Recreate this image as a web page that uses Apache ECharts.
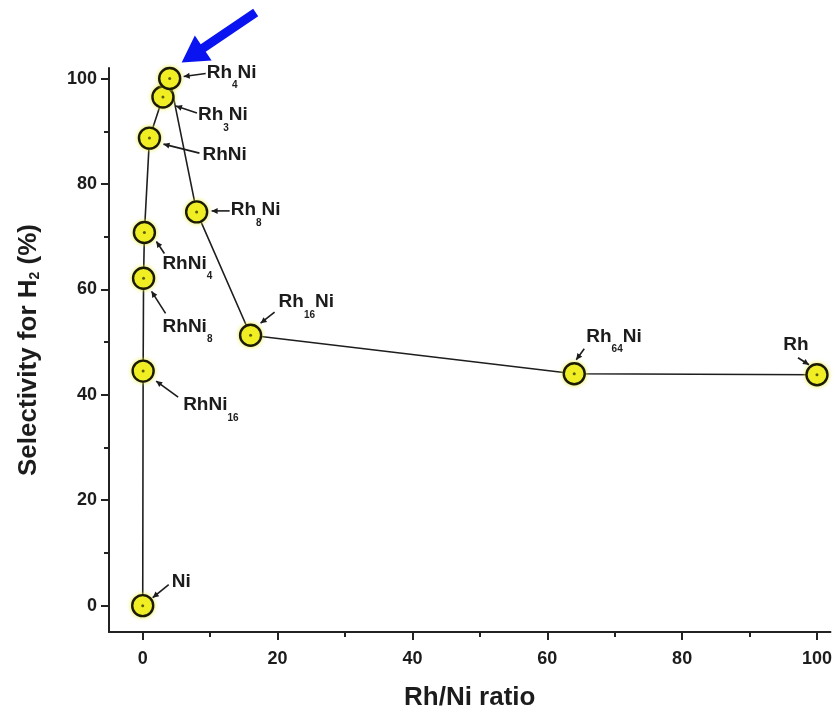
<!DOCTYPE html>
<html>
<head>
<meta charset="utf-8">
<script src="https://cdn.jsdelivr.net/npm/echarts@6/dist/echarts.min.js"></script>
<style>
html,body{margin:0;padding:0;background:#fff;}
#c{width:835px;height:724px;}
</style>
</head>
<body>
<div id="c"></div>
<script>
// ---- data ----
const ratioX = [0, 0.0625, 0.125, 0.25, 1, 3, 4, 8, 16, 64, 100];
const selectivityY = [0, 44.5, 62.1, 70.8, 88.7, 96.5, 100, 74.7, 51.3, 44.0, 43.8];
const pointLabels = ['Ni', 'RhNi{s|16}', 'RhNi{s|8}', 'RhNi{s|4}', 'RhNi', 'Rh{s|3}Ni', 'Rh{s|4}Ni', 'Rh{s|8}Ni', 'Rh{s|16}Ni', 'Rh{s|64}Ni', 'Rh'];
const xMajorTicks = [0, 20, 40, 60, 80, 100];
const xMinorTicks = [10, 30, 50, 70, 90];
const yMajorTicks = [0, 20, 40, 60, 80, 100];
const yMinorTicks = [10, 30, 50, 70, 90];

// ---- label layout (pixel offsets from each point: style only) ----
const labelLayout = [
  {t: [29, -24], align: 'left', a: [26, -21, 10, -8]},
  {t: [40, 34], align: 'left', a: [35, 26, 13, 10]},
  {t: [19, 48], align: 'left', a: [22, 35, 8, 13]},
  {t: [18, 31], align: 'left', a: [20, 21, 12, 9]},
  {t: [53, 17], align: 'left', a: [50, 15, 14, 6]},
  {t: [35, 18], align: 'left', a: [34, 16, 13, 9]},
  {t: [37, -6], align: 'left', a: [36, -5, 14, -2], blue: [12, -16, 86, -66]},
  {t: [34, -2], align: 'left', a: [33, -1, 15, -1]},
  {t: [28, -33], align: 'left', a: [24, -23, 10, -12]},
  {t: [12, -37], align: 'left', a: [10, -25, 2, -14]},
  {t: [-21, -30], align: 'center', a: [-19, -17, -8, -10]}
];

const pts = ratioX.map((x, i) => [x, selectivityY[i]]);
const FONT = '"Liberation Sans", Arial, Helvetica, sans-serif';
const TXT = '#1c1c1c';

function arrowHead(x1, y1, x2, y2, len, half) {
  const dx = x2 - x1, dy = y2 - y1;
  const d = Math.sqrt(dx * dx + dy * dy) || 1;
  const ux = dx / d, uy = dy / d;
  const bx = x2 - ux * len, by = y2 - uy * len;
  return [[x2, y2], [bx - uy * half, by + ux * half], [bx + uy * half, by - ux * half]];
}

function bigArrow(tx, ty, sx, sy) {
  const dx = tx - sx, dy = ty - sy;
  const d = Math.sqrt(dx * dx + dy * dy);
  const ux = dx / d, uy = dy / d;
  const px = -uy, py = ux;
  const headLen = 26, headHalf = 15, shaftHalf = 4.5;
  const bx = tx - ux * headLen, by = ty - uy * headLen;
  return [
    [sx + px * shaftHalf, sy + py * shaftHalf],
    [bx + px * shaftHalf, by + py * shaftHalf],
    [bx + px * headHalf, by + py * headHalf],
    [tx, ty],
    [bx - px * headHalf, by - py * headHalf],
    [bx - px * shaftHalf, by - py * shaftHalf],
    [sx - px * shaftHalf, sy - py * shaftHalf]
  ];
}

const chart = echarts.init(document.getElementById('c'), null, {renderer: 'canvas'});

const labelStyle = {color: TXT, fontFamily: FONT, fontWeight: 'bold', fontSize: 18};

chart.setOption({
  backgroundColor: '#ffffff',
  animation: false,
  grid: {left: 109, right: 4, top: 68, bottom: 92},
  xAxis: [
    {
      type: 'value', min: -5, max: 102, position: 'bottom',
      axisLine: {show: true, onZero: false, lineStyle: {color: '#222', width: 2}},
      splitLine: {show: false},
      name: 'Rh/Ni ratio', nameLocation: 'middle', nameGap: 53,
      nameTextStyle: {color: TXT, fontFamily: FONT, fontWeight: 'bold', fontSize: 26},
      axisTick: {show: true, inside: false, length: 8, lineStyle: {color: '#222', width: 2}, customValues: xMajorTicks},
      axisLabel: Object.assign({}, labelStyle, {margin: 18, customValues: xMajorTicks})
    },
    {
      type: 'value', min: -5, max: 102, position: 'bottom', gridIndex: 0,
      axisLine: {show: false, onZero: false}, splitLine: {show: false},
      axisLabel: {show: false},
      axisTick: {show: true, length: 5, lineStyle: {color: '#222', width: 2}, customValues: xMinorTicks}
    }
  ],
  yAxis: [
    {
      type: 'value', min: -5, max: 102, position: 'left',
      axisLine: {show: true, onZero: false, lineStyle: {color: '#222', width: 2}},
      splitLine: {show: false},
      name: 'Selectivity for H{s|2} (%)', nameLocation: 'middle', nameGap: 67, nameRotate: 90,
      nameTextStyle: {color: TXT, fontFamily: FONT, fontWeight: 'bold', fontSize: 26,
        rich: {s: {fontFamily: FONT, fontWeight: 'bold', fontSize: 14, color: TXT, verticalAlign: 'bottom', lineHeight: 15}}},
      axisTick: {show: true, inside: false, length: 8, lineStyle: {color: '#222', width: 2}, customValues: yMajorTicks},
      axisLabel: Object.assign({}, labelStyle, {margin: 12, customValues: yMajorTicks})
    },
    {
      type: 'value', min: -5, max: 102, position: 'left', gridIndex: 0,
      axisLine: {show: false, onZero: false}, splitLine: {show: false},
      axisLabel: {show: false},
      axisTick: {show: true, length: 5, lineStyle: {color: '#222', width: 2}, customValues: yMinorTicks}
    }
  ],
  series: [
    {
      type: 'line', data: pts, xAxisIndex: 0, yAxisIndex: 0,
      lineStyle: {color: '#1e1e1e', width: 1.6},
      symbol: 'circle', symbolSize: 21,
      itemStyle: {color: '#f1ef22', borderColor: '#1a1a05', borderWidth: 2.4,
        shadowBlur: 4, shadowColor: 'rgba(235,235,60,0.8)'},
      z: 3
    },
    {
      type: 'scatter', data: pts, xAxisIndex: 0, yAxisIndex: 0,
      symbol: 'circle', symbolSize: 3, itemStyle: {color: '#3a3a10'}, z: 4, silent: true
    },
    {
      type: 'custom', data: pts, xAxisIndex: 0, yAxisIndex: 0, z: 5, silent: true,
      renderItem: function (params, api) {
        const i = params.dataIndex;
        const p = api.coord([api.value(0), api.value(1)]);
        const L = labelLayout[i];
        const x1 = p[0] + L.a[0], y1 = p[1] + L.a[1], x2 = p[0] + L.a[2], y2 = p[1] + L.a[3];
        const children = [
          {
            type: 'text',
            style: {
              x: p[0] + L.t[0], y: p[1] + L.t[1],
              text: pointLabels[i],
              fill: TXT, fontFamily: FONT, fontWeight: 'bold', fontSize: 19,
              lineHeight: 36,
              align: L.align, verticalAlign: 'middle',
              rich: {s: {fontFamily: FONT, fontWeight: 'bold', fontSize: 10, fill: TXT, verticalAlign: 'bottom', lineHeight: 12}}
            }
          },
          {type: 'line', shape: {x1: x1, y1: y1, x2: x2, y2: y2}, style: {stroke: '#1c1c1c', lineWidth: 1.6}},
          {type: 'polygon', shape: {points: arrowHead(x1, y1, x2, y2, 6, 3)}, style: {fill: '#1c1c1c'}}
        ];
        if (L.blue) {
          children.push({
            type: 'polygon',
            shape: {points: bigArrow(p[0] + L.blue[0], p[1] + L.blue[1], p[0] + L.blue[2], p[1] + L.blue[3])},
            style: {fill: '#0a14f0'}
          });
        }
        return {type: 'group', children: children};
      }
    }
  ]
});
</script>
</body>
</html>
